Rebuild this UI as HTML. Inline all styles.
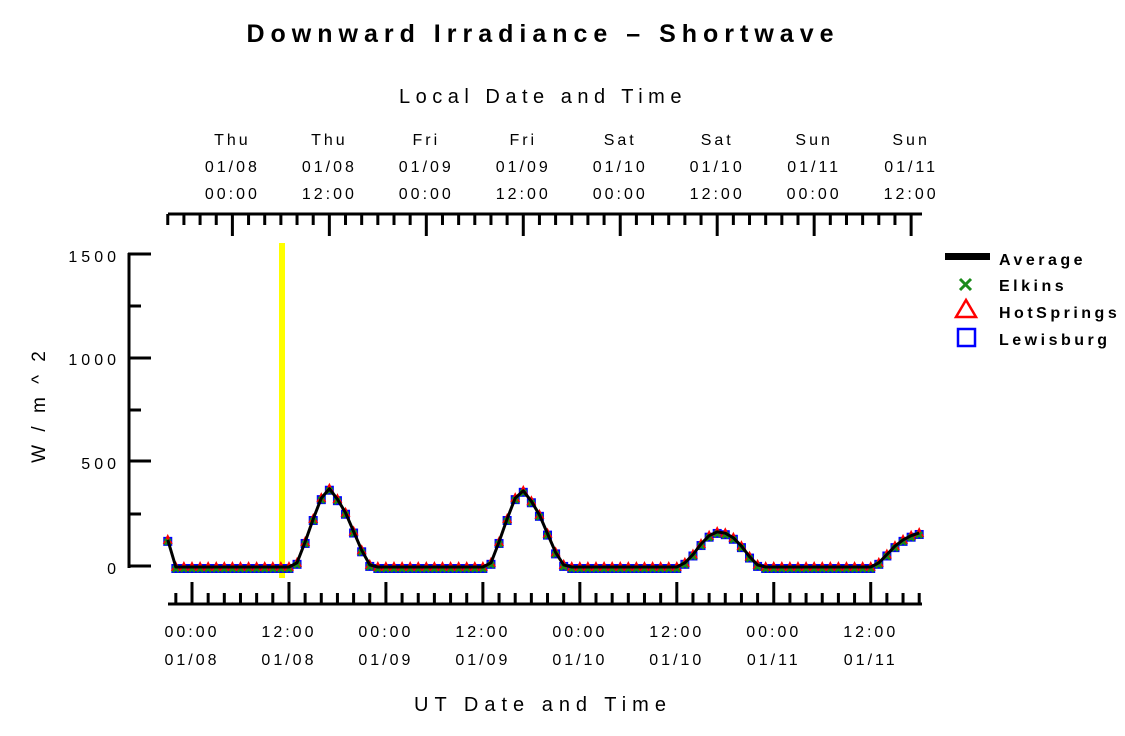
<!DOCTYPE html>
<html><head><meta charset="utf-8"><style>
body{margin:0;background:#fff;width:1125px;height:731px;overflow:hidden}
text{font-family:"Liberation Sans",sans-serif}
</style></head><body>
<svg id="s" width="1125" height="731" xmlns="http://www.w3.org/2000/svg">
<text x="543" y="42" text-anchor="middle" font-size="25" font-weight="bold" letter-spacing="6">Downward Irradiance – Shortwave</text>
<text x="543" y="103" text-anchor="middle" font-size="20" letter-spacing="5.5">Local Date and Time</text>
<text x="543" y="711" text-anchor="middle" font-size="20" letter-spacing="6">UT Date and Time</text>
<text transform="translate(45,405) rotate(-90)" text-anchor="middle" font-size="19" letter-spacing="4">W / m ^ 2</text>
<g font-size="16" text-anchor="end" letter-spacing="4">
<text x="120" y="262">1500</text><text x="120" y="365">1000</text><text x="120" y="469">500</text><text x="120" y="574">0</text>
</g>
<rect x="279" y="243" width="6" height="335" fill="#ffff00"/>
<g stroke="#000" stroke-width="3" fill="none">
<path d="M129,253V568 M128,254H151 M128,358H151 M128,461H151 M128,566H151 M128,306H141 M128,410H141 M128,514H141"/>
<path d="M168,604H922 M168,214H922"/>
</g>
<g id="ticks" stroke="#000" stroke-width="3"></g>
<g id="data"></g>
<g id="labs" font-size="16" text-anchor="middle" letter-spacing="3"></g>
<g font-size="16" font-weight="bold" letter-spacing="3.5">
<rect x="945" y="253" width="45" height="7" fill="#000"/>
<text x="999" y="265">Average</text>
<path d="M960,279l11,11m0,-11l-11,11" stroke="#1a8a1a" stroke-width="3"/>
<text x="999" y="291">Elkins</text>
<polygon points="966,300 956,317 976,317" fill="none" stroke="#f00" stroke-width="2.5"/>
<text x="999" y="318">HotSprings</text>
<rect x="958" y="329" width="17" height="17" fill="none" stroke="#00f" stroke-width="2.5"/>
<text x="999" y="345">Lewisburg</text>
</g>
</svg>
<script>
var ns="http://www.w3.org/2000/svg",px=8.08,x0=192;
function X(h){return x0+px*h}
function Y(v){return 567-v*0.2087}
var t="";
for(var h=-2;h<=90;h+=2){var x=X(h),maj=((h%12)+12)%12==0;t+="M"+x+",604V"+(maj?582:593);}
for(var h=-3;h<=89;h+=2){var x=X(h),maj=(((h-5)%12)+12)%12==0;t+="M"+x+",214V"+(maj?236:225);}
var p=document.createElementNS(ns,"path");p.setAttribute("d",t);document.getElementById("ticks").appendChild(p);
var L=document.getElementById("labs"),lh="";
var tl=[["Thu","01/08","00:00"],["Thu","01/08","12:00"],["Fri","01/09","00:00"],["Fri","01/09","12:00"],["Sat","01/10","00:00"],["Sat","01/10","12:00"],["Sun","01/11","00:00"],["Sun","01/11","12:00"]];
for(var i=0;i<8;i++){var x=X(5+12*i);lh+='<text x="'+x+'" y="145">'+tl[i][0]+'</text><text x="'+x+'" y="172">'+tl[i][1]+'</text><text x="'+x+'" y="199">'+tl[i][2]+'</text>';
var xb=X(12*i);lh+='<text x="'+xb+'" y="637">'+(i%2?"12:00":"00:00")+'</text><text x="'+xb+'" y="665">01/'+("0"+(8+Math.floor(i/2))).slice(-2)+'</text>';}
L.innerHTML=lh;
var d1=[0,20,120,230,330,375,325,260,170,80,10];
var d2=[0,20,120,230,330,365,315,250,160,70,10];
var d3=[0,20,60,110,150,168,162,140,100,50,10];
var d4=[0,20,60,100,130,150,163];
var v={};
for(var h=-3;h<=90;h++)v[h]=0;v[-3]=130;
d1.forEach(function(a,i){v[12+i]=a});d2.forEach(function(a,i){v[36+i]=a});d3.forEach(function(a,i){v[60+i]=a});d4.forEach(function(a,i){v[84+i]=a});
var pts=[],mk="";
for(var h=-3;h<=90;h++){var x=X(h),y=Y(v[h]);pts.push(x.toFixed(1)+","+y.toFixed(1));
mk+='<rect x="'+(x-4.5)+'" y="'+(y-3)+'" width="9" height="9" fill="#00f"/>';
mk+='<polygon points="'+x+','+(y-6)+' '+(x-5)+','+(y+4)+' '+(x+5)+','+(y+4)+'" fill="#f00"/>';
mk+='<path d="M'+(x-3)+','+(y-1)+'l6,6m0,-6l-6,6" stroke="#1a8a1a" stroke-width="2.5"/>';}
mk+='<polyline points="'+pts.join(" ")+'" fill="none" stroke="#000" stroke-width="3" stroke-linejoin="round"/>';
document.getElementById("data").innerHTML=mk;
</script>
</body></html>
